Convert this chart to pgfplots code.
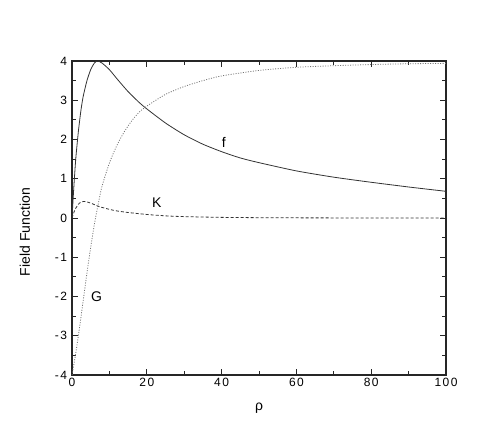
\documentclass[border=0pt]{standalone}
\usepackage{fontspec}
\setmainfont{Liberation Sans}
\newfontfamily\tickfont[LetterSpace=12]{Liberation Sans}
\usepackage{pgfplots}
\pgfplotsset{compat=1.18}

\begin{document}
\begin{tikzpicture}
\path[use as bounding box] (-72pt,-68pt) rectangle (419pt,375pt);
\begin{axis}[
  at={(0pt,0pt)}, anchor=south west,
  scale only axis, width=374pt, height=314pt,
  xmin=0, xmax=100, ymin=-4, ymax=4,
  xtick={0,20,...,100}, minor xtick={10,30,...,90},
  ytick={-4,-3,...,4}, minor ytick={-3.5,-2.5,...,3.5},
  tick align=inside, major tick length=6pt, minor tick length=4pt,
  axis line style={line width=1.2pt, black!85},
  every tick/.style={black!85, line width=0.9pt},
  /pgf/number format/assume math mode=true,
  ticklabel style={font=\tickfont\fontsize{12}{14}\selectfont},
  yticklabel style={xshift=-1.5pt},
  xlabel={ρ}, ylabel={Field Function},
  xlabel style={font=\fontsize{14}{16}\selectfont, at={(axis description cs:0.5,-0.105)}, anchor=center},
  ylabel style={font=\fontsize{14}{16}\selectfont, at={(axis description cs:-0.126,0.455)}, anchor=center},
  clip=true,
]
% f
\addplot[black!80, line width=0.8pt, smooth, tension=0.4] coordinates {
  (0,0) (0.5,0.8) (1,1.5) (1.7,2.2) (2.4,2.75) (3,3.1) (4,3.5) (5,3.78)
  (6,3.95) (6.8,4.0) (8,3.95) (10,3.78) (12,3.55) (15,3.22) (18,2.94)
  (20,2.78) (25,2.42) (30,2.12) (35,1.88) (40,1.69) (45,1.53) (50,1.41)
  (60,1.2) (70,1.04) (80,0.91) (90,0.79) (100,0.68)
};
% K
\addplot[black!80, line width=0.8pt, dash pattern=on 3pt off 2pt, smooth, tension=0.4] coordinates {
  (0,0) (0.5,0.14) (1,0.25) (2,0.38) (3,0.42) (4,0.41) (5,0.38) (6,0.34)
  (7,0.3) (8,0.27) (10,0.22) (12,0.18) (15,0.14) (20,0.09) (25,0.055)
  (30,0.035) (40,0.016) (50,0.008) (60,0.004) (80,0.001) (100,0)
};
% G
\addplot[black!55, line width=0.8pt, dash pattern=on 1pt off 1.5pt, smooth, tension=0.4] coordinates {
  (0,-4) (1,-3.45) (2,-2.8) (3,-2.1) (4,-1.4) (5,-0.75) (6,-0.15) (7,0.35)
  (8,0.8) (10,1.4) (12,1.85) (14,2.2) (16,2.48) (18,2.7) (20,2.85)
  (25,3.15) (30,3.35) (35,3.5) (40,3.62) (50,3.76) (60,3.84) (70,3.88)
  (80,3.91) (90,3.93) (100,3.94)
};
\node[font=\fontsize{14}{16}\selectfont] at (axis cs:40.6,1.92) {f};
\node[font=\fontsize{14}{16}\selectfont] at (axis cs:22.7,0.40) {K};
\node[font=\fontsize{14}{16}\selectfont] at (axis cs:6.6,-2.0) {G};
\end{axis}
\end{tikzpicture}
\end{document}
